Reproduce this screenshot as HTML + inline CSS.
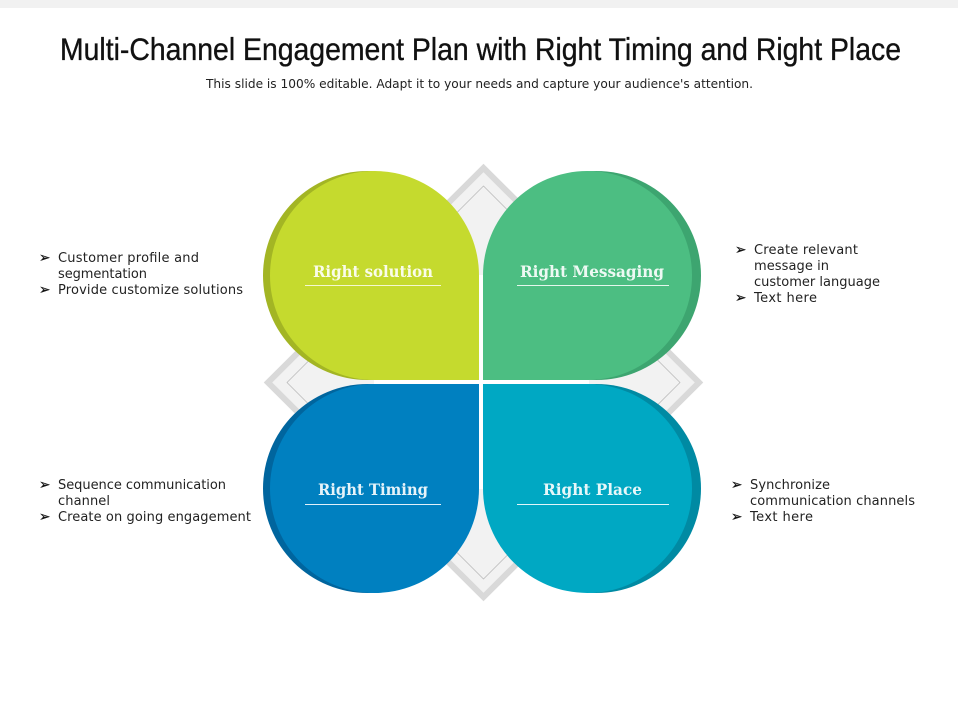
<!DOCTYPE html>
<html lang="en">
<head>
<meta charset="utf-8">
<title>Multi-Channel Engagement Plan</title>
<style>
html,body{margin:0;padding:0;background:#fff;width:960px;height:720px;overflow:hidden}
svg{display:block}
.b{font-family:"DejaVu Sans","Liberation Sans",sans-serif;font-size:13px;fill:#222}
.m{font-family:"DejaVu Sans",sans-serif;font-size:13.5px;fill:#111;stroke:#111;stroke-width:.3}
.h{font-family:"DejaVu Serif","Liberation Serif",serif;font-size:15.5px;font-weight:bold;fill:#fff;fill-opacity:.9}
</style>
</head>
<body>
<svg width="960" height="720" viewBox="0 0 960 720" xmlns="http://www.w3.org/2000/svg">
<rect x="0" y="0" width="958" height="8" fill="#f1f1f1"/>
<text x="60" y="60" textLength="841" lengthAdjust="spacingAndGlyphs" font-family="'Liberation Sans',sans-serif" font-size="31.5" fill="#111" stroke="#111" stroke-width="0.35">Multi-Channel Engagement Plan with Right Timing and Right Place</text>
<text class="b" x="206" y="88" textLength="547" lengthAdjust="spacingAndGlyphs" style="font-size:12.5px">This slide is 100% editable. Adapt it to your needs and capture your audience's attention.</text>

<polygon points="483.5,168 699,382.5 483.5,597 268,382.5" fill="#f2f2f2" stroke="#d9d9d9" stroke-width="6"/>
<polygon points="483.5,186 680,382.5 483.5,579 287,382.5" fill="#f2f2f2" stroke="#b5b5b5" stroke-width="0.7"/>

<circle cx="367.5" cy="275.5" r="104.5" fill="#a3b524"/>
<circle cx="596.5" cy="275.5" r="104.5" fill="#3da570"/>
<circle cx="367.5" cy="488.5" r="104.5" fill="#00659e"/>
<circle cx="596.5" cy="488.5" r="104.5" fill="#008aa3"/>

<path d="M479,380 H374.5 A104.5,104.5 0 1 1 479,275.5 Z" fill="#c5da2e"/>
<path d="M483,380 H588.5 A104.5,104.5 0 1 0 483,275.5 Z" fill="#4cbe82"/>
<path d="M479,384 H374.5 A104.5,104.5 0 1 0 479,488.5 Z" fill="#0080c0"/>
<path d="M483,384 H588.5 A104.5,104.5 0 1 1 483,488.5 Z" fill="#00a8c3"/>
<rect x="479" y="275" width="4" height="214" fill="#fff"/>
<rect x="374" y="380" width="215" height="4" fill="#fff"/>

<text class="h" x="313" y="277" textLength="120" lengthAdjust="spacingAndGlyphs">Right solution</text>
<rect x="305" y="285" width="136" height="1" fill="#f4f8d0"/>
<text class="h" x="520" y="277" textLength="144" lengthAdjust="spacingAndGlyphs">Right Messaging</text>
<rect x="517" y="285" width="152" height="1" fill="#e4f6ec"/>
<text class="h" x="318" y="495" textLength="110" lengthAdjust="spacingAndGlyphs">Right Timing</text>
<rect x="305" y="504" width="136" height="1" fill="#e0f0fa"/>
<text class="h" x="543" y="495" textLength="99" lengthAdjust="spacingAndGlyphs">Right Place</text>
<rect x="517" y="504" width="152" height="1" fill="#e0f6fa"/>

<text class="m" x="39" y="262">➢</text>
<text class="b" x="58" y="262" textLength="141" lengthAdjust="spacing">Customer profile and</text>
<text class="b" x="58" y="278" textLength="89" lengthAdjust="spacing">segmentation</text>
<text class="m" x="39" y="294">➢</text>
<text class="b" x="58" y="294" textLength="185" lengthAdjust="spacing">Provide customize solutions</text>

<text class="m" x="735" y="254">➢</text>
<text class="b" x="754" y="254" textLength="104" lengthAdjust="spacing">Create relevant</text>
<text class="b" x="754" y="270" textLength="75" lengthAdjust="spacing">message in</text>
<text class="b" x="754" y="286" textLength="126" lengthAdjust="spacing">customer language</text>
<text class="m" x="735" y="302">➢</text>
<text class="b" x="754" y="302" textLength="63" lengthAdjust="spacing">Text here</text>

<text class="m" x="39" y="489">➢</text>
<text class="b" x="58" y="489" textLength="168" lengthAdjust="spacing">Sequence communication</text>
<text class="b" x="58" y="505" textLength="52" lengthAdjust="spacing">channel</text>
<text class="m" x="39" y="521">➢</text>
<text class="b" x="58" y="521" textLength="193" lengthAdjust="spacing">Create on going engagement</text>

<text class="m" x="731" y="489">➢</text>
<text class="b" x="750" y="489" textLength="80" lengthAdjust="spacing">Synchronize</text>
<text class="b" x="750" y="505" textLength="165" lengthAdjust="spacing">communication channels</text>
<text class="m" x="731" y="521">➢</text>
<text class="b" x="750" y="521" textLength="63" lengthAdjust="spacing">Text here</text>
</svg>
</body>
</html>
